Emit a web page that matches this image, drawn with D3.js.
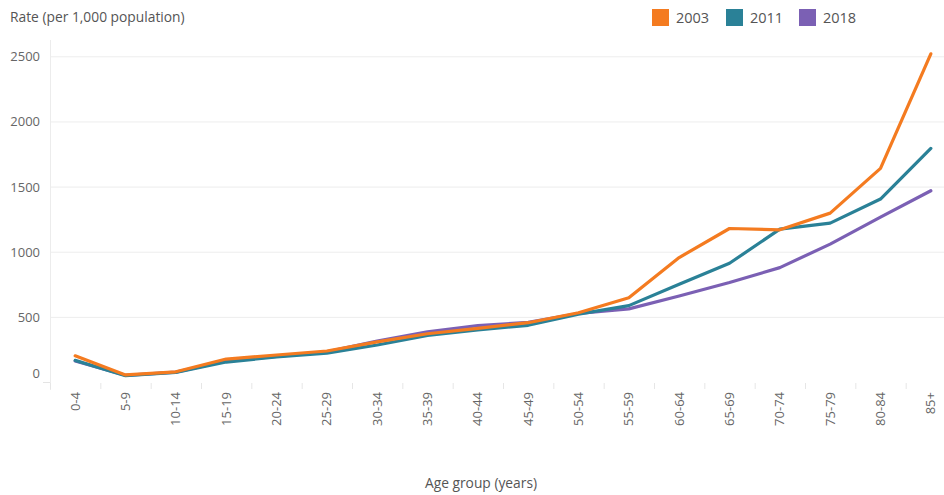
<!DOCTYPE html>
<html><head><meta charset="utf-8">
<script src="https://cdn.jsdelivr.net/npm/d3@7/dist/d3.min.js"></script>
<style>body{margin:0;background:#fff;} text{font-family:"Open Sans",sans-serif;}</style>
</head><body>
<svg id="c" width="944" height="495"></svg>
<script>
const categories = ["0-4","5-9","10-14","15-19","20-24","25-29","30-34","35-39","40-44","45-49","50-54","55-59","60-64","65-69","70-74","75-79","80-84","85+"];
const years = ["2003","2011","2018"];
const s2003 = [205, 58, 82, 180, 211, 242, 312, 374, 416, 459, 535, 650, 959, 1182, 1172, 1300, 1644, 2523];
const s2011 = [170, 52, 78, 157, 196, 225, 288, 361, 403, 439, 525, 590, 754, 915, 1177, 1223, 1408, 1797];
const s2018 = [165, 55, 80, 165, 200, 235, 318, 389, 436, 462, 530, 565, 664, 767, 882, 1062, 1270, 1472];
const yTicks = [0, 500, 1000, 1500, 2000, 2500];
const colors = {"2003":"#f47b20","2011":"#2a8197","2018":"#7b60b4"};

const svg = d3.select("#c");
const x = d3.scaleBand().domain(categories).range([50, 956]);
const y = d3.scaleLinear().domain([0, 2500]).range([382.5, 56.8]);

// gridlines
svg.append("g").selectAll("line").data(yTicks.filter(d=>d>0)).join("line")
  .attr("x1", 50).attr("x2", 944).attr("y1", d=>y(d)).attr("y2", d=>y(d))
  .attr("stroke", "#ededed").attr("stroke-width", 1);

// axis lines
svg.append("line").attr("x1", 50.5).attr("x2", 50.5).attr("y1", 40).attr("y2", 390).attr("stroke", "#ececec");
svg.append("line").attr("x1", 43).attr("x2", 50).attr("y1", y(0)).attr("y2", y(0)).attr("stroke", "#e4e4e4");

// y tick labels
svg.append("g").selectAll("text").data(yTicks).join("text")
  .attr("x", 40).attr("y", d=>y(d) + (d===0 ? -9 : 0)).attr("dy", "0.35em")
  .attr("text-anchor", "end").attr("font-size", 13).attr("fill", "#666")
  .text(d=>d);

// x axis separators
const bounds = categories.map(c=>x(c)).concat([x(categories[categories.length-1]) + x.bandwidth()]);
svg.append("g").selectAll("line").data(bounds).join("line")
  .attr("x1", d=>d+0.5).attr("x2", d=>d+0.5).attr("y1", 383).attr("y2", 389)
  .attr("stroke", "#e6e6e6");

// x tick labels
svg.append("g").selectAll("text").data(categories).join("text")
  .attr("transform", d=>`translate(${x(d)+x.bandwidth()/2},392) rotate(-90)`)
  .attr("dy", "0.35em").attr("text-anchor", "end")
  .attr("font-size", 13).attr("fill", "#666").text(d=>d);

// lines
const series = {"2003": s2003, "2011": s2011, "2018": s2018};
const line = d3.line().x((d,i)=>x(categories[i]) + x.bandwidth()/2).y(d=>y(d));
["2018","2011","2003"].forEach(k=>{
  svg.append("path").datum(series[k]).attr("d", line)
    .attr("fill", "none").attr("stroke", colors[k]).attr("stroke-width", 3.2)
    .attr("stroke-linejoin", "round").attr("stroke-linecap", "round");
});

// titles
svg.append("text").attr("x", 10).attr("y", 22).attr("font-size", 13.8).attr("fill", "#555")
  .text("Rate (per 1,000 population)");
svg.append("text").attr("x", 481).attr("y", 488).attr("text-anchor", "middle")
  .attr("font-size", 13.8).attr("fill", "#555").text("Age group (years)");

// legend
const legX = [652, 726, 799];
const lg = svg.append("g").selectAll("g").data(years).join("g")
  .attr("transform", (d,i)=>`translate(${legX[i]},9)`);
lg.append("rect").attr("width", 17).attr("height", 17).attr("fill", d=>colors[d]);
lg.append("text").attr("x", 24).attr("y", 8.5).attr("dy", "0.36em")
  .attr("font-size", 14.5).attr("fill", "#555").text(d=>d);
</script>
</body></html>
